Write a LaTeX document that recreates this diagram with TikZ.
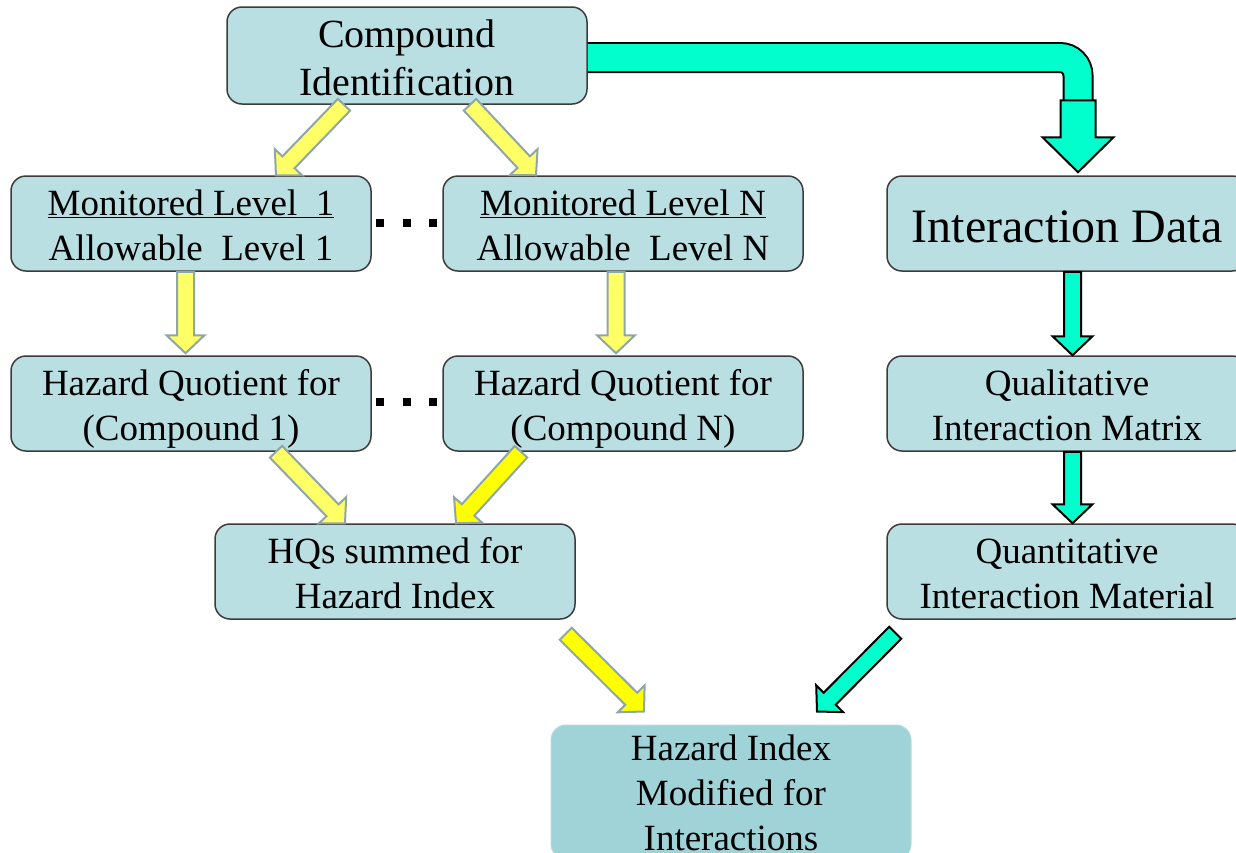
\documentclass[tikz,border=0pt]{standalone}
\usepackage{fontspec}
\setmainfont{Liberation Serif}
\usetikzlibrary{calc}

\definecolor{boxfill}{HTML}{B9DFE3}
\definecolor{boxline}{HTML}{3C3C3C}
\definecolor{finfill}{HTML}{A0D3D8}
\definecolor{finline}{HTML}{B4DADE}
\definecolor{paleyellow}{HTML}{FFFF66}
\definecolor{fullyellow}{HTML}{FFFF00}
\definecolor{yellowedge}{HTML}{8FA6A8}
\definecolor{aqua}{HTML}{00FFCC}

% invisible rules fixing the height of the first line and the depth of the last
\newcommand\hstrut[1]{\rule{0pt}{#1pt}}
\newcommand\dstrut[1]{\rule[-#1pt]{0pt}{#1pt}}

% block arrow: #1 style, #2 tail, #3 tip, #4 half shaft width,
% #5 half head width, #6 head length (all in pt)
\newcommand\fatarrow[6]{%
  \coordinate (fa-s) at #2;
  \coordinate (fa-e) at #3;
  \coordinate (fa-h) at ($(fa-e)!#6pt!(fa-s)$);
  \draw[#1] ($(fa-s)!#4pt!90:(fa-e)$) -- ($(fa-h)!#4pt!-90:(fa-s)$)
    -- ($(fa-h)!#5pt!-90:(fa-s)$) -- (fa-e) -- ($(fa-h)!#5pt!90:(fa-s)$)
    -- ($(fa-h)!#4pt!90:(fa-s)$) -- ($(fa-s)!#4pt!-90:(fa-e)$) -- cycle;
}

\tikzset{
  box/.style={draw=boxline, line width=1.5pt, fill=boxfill, rounded corners=15pt,
    minimum width=360pt, minimum height=95pt, inner sep=0pt, align=center,
    font={\fontsize{37}{45}\selectfont}},
  dotsq/.style={fill=black, inner sep=0pt, minimum size=8pt},
  yarrow/.style={fill=paleyellow, draw=yellowedge, line width=2pt},
  yarrowfull/.style={yarrow, fill=fullyellow},
  carrow/.style={fill=aqua, draw=black, line width=2pt},
  pipe/.style={draw=black, line width=2pt, double=aqua, double distance=27pt,
    rounded corners=18pt},
}

\begin{document}
\begin{tikzpicture}[x=1pt,y=-1pt]
\useasboundingbox (0,0) rectangle (1236,852);

% boxes
\node[box, font={\fontsize{40}{48}\selectfont}] (ci) at (407,55.5)
  {\hstrut{40}Compound\\Identification\dstrut{9}};
\node[box] (m1) at (191,223.5)
  {\hstrut{37}\underline{Monitored Level~~1}\\Allowable~~Level 1\dstrut{9}};
\node[box] (mn) at (623,223.5)
  {\hstrut{37}\underline{Monitored Level N}\\Allowable~~Level N\dstrut{9}};
\node[box, font={\fontsize{48}{58}\selectfont}] (id) at (1067,223.5)
  {\hstrut{45}Interaction Data\dstrut{8}};
\node[box] (h1) at (191,403.5)
  {\hstrut{37}Hazard Quotient for\\(Compound 1)\dstrut{9}};
\node[box] (hn) at (623,403.5)
  {\hstrut{37}Hazard Quotient for\\(Compound N)\dstrut{9}};
\node[box] (ql) at (1067,403.5)
  {\hstrut{37}Qualitative\\Interaction Matrix\dstrut{9}};
\node[box] (hs) at (395,571.5)
  {\hstrut{37}HQs summed for\\Hazard Index\dstrut{9}};
\node[box] (qt) at (1067,571.5)
  {\hstrut{37}Quantitative\\Interaction Material\dstrut{9}};
\node[box, fill=finfill, draw=finline, line width=1pt, minimum height=122pt] (hi) at (731,792)
  {\hstrut{35}Hazard Index\\Modified for\\Interactions\dstrut{9}};

% ellipsis dots between the compound columns
\node[dotsq] (d1) at (380,223) {};
\node[dotsq] (d2) at (407,223) {};
\node[dotsq] (d3) at (433,223) {};
\node[dotsq] (d4) at (380,402) {};
\node[dotsq] (d5) at (407,402) {};
\node[dotsq] (d6) at (433,402) {};

% hazard index branch
\fatarrow{yarrow}{($(ci.south)+(-63,0)$)}{($(m1.north)+(85,0)$)}{8.5}{19}{18}
\fatarrow{yarrow}{($(ci.south)+(63,0)$)}{($(mn.north)+(-87,0)$)}{8.5}{19}{18}
\fatarrow{yarrow}{($(m1.south)+(-5.5,0)$)}{($(h1.north)+(-5.5,-2)$)}{8.5}{19}{18}
\fatarrow{yarrow}{($(mn.south)+(-7,0)$)}{($(hn.north)+(-7,-2)$)}{8.5}{19}{18}
\fatarrow{yarrow}{($(h1.south)+(85,0)$)}{($(hs.north)+(-50,0)$)}{8.5}{19}{18}
\fatarrow{yarrowfull}{($(hn.south)+(-102,0)$)}{($(hs.north)+(61,0)$)}{8.5}{19}{18}
\fatarrow{yarrowfull}{($(hs.south east)+(-10,14)$)}{($(hi.north)+(-87,-13)$)}{8.5}{19}{18}

% interaction branch
\draw[pipe] ($(ci.east)+(0,2)$) -| ($(id.north)+(11,-75)$);
\fatarrow{carrow}{($(id.north)+(11,-75)$)}{($(id.north)+(11,-3)$)}{17.5}{35.5}{35}
\fatarrow{carrow}{($(id.south)+(5.5,0)$)}{($(ql.north)+(5.5,0)$)}{8.5}{20}{19}
\fatarrow{carrow}{($(ql.south)+(5.5,0)$)}{($(qt.north)+(5.5,0)$)}{8.5}{20}{19}
\fatarrow{carrow}{($(qt.south west)+(9,13)$)}{($(hi.north)+(86,-13)$)}{8.5}{19}{18}
\end{tikzpicture}
\end{document}
